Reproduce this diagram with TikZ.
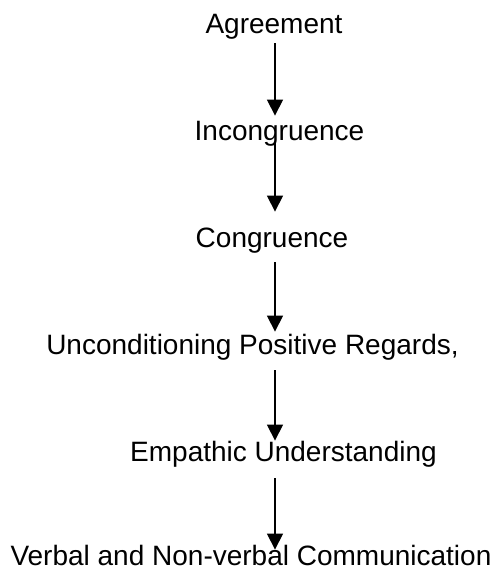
\documentclass[tikz,border=0pt]{standalone}
\usepackage{fontspec}
\setmainfont{Liberation Sans}
\usetikzlibrary{arrows.meta}

\begin{document}
\begin{tikzpicture}[x=0.5pt, y=-0.5pt,
  stage/.style={inner sep=0pt, anchor=base, text height=10pt, text depth=3pt, font=\fontsize{14}{17}\selectfont},
  flow/.style={-{Triangle[width=8pt,length=8pt]}, line width=0.6pt}]
  \useasboundingbox (0,0) rectangle (498,570);
  \coordinate (axis) at (275,0);
  \node[stage] (agree) at (274,33) {Agreement};
  \node[stage] (incong) at (279.5,140) {Incongruence};
  \node[stage] (cong) at (272,247) {Congruence};
  \node[stage] (regard) at (252.5,354) {Unconditioning Positive Regards,};
  \node[stage] (empathy) at (283.5,461) {Empathic Understanding};
  \node[stage] (comm) at (251,565) {Verbal and Non-verbal Communication};
  \path[flow]
  (agree.south -| axis) edge [shorten <=2pt, shorten >=2pt] (incong.north -| axis)
  (incong.south -| axis) edge [shorten <=-2pt, shorten >=7.5pt] (cong.north -| axis)
  (cong.south -| axis) edge [shorten <=4.5pt, shorten >=1pt] (regard.north -| axis)
  (regard.south -| axis) edge [shorten <=5pt, shorten >=0pt] (empathy.north -| axis)
  (empathy.south -| axis) edge [shorten <=5.5pt, shorten >=-2.5pt] (comm.north -| axis)
  ;
\end{tikzpicture}
\end{document}
